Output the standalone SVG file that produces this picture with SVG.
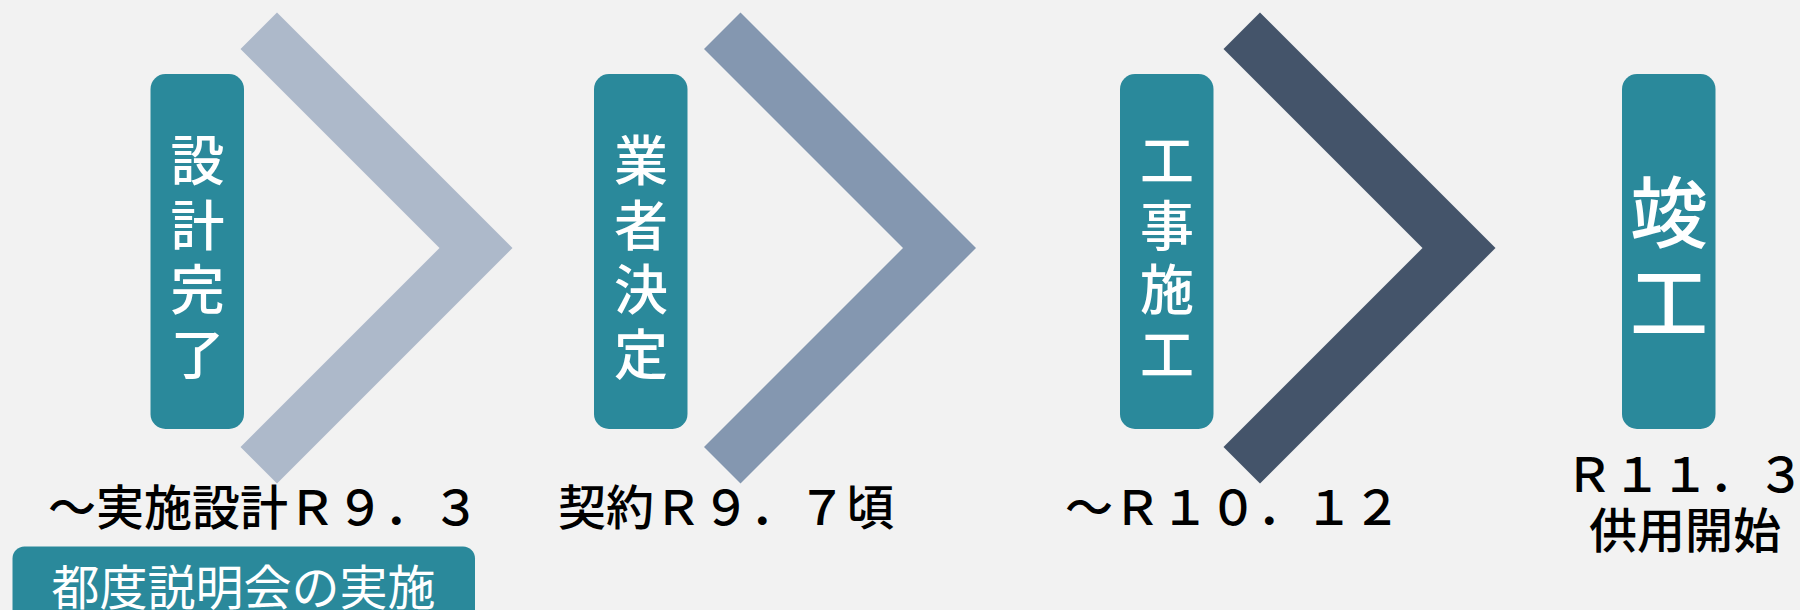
<svg xmlns="http://www.w3.org/2000/svg" width="1800" height="610" viewBox="0 0 1800 610">
<style>
.box{fill:#2A899B}
.bt{fill:#FFFFFF;font-family:"Noto Sans CJK JP","Noto Sans CJK SC",sans-serif;font-size:54px;font-weight:500;text-anchor:middle}
.bt2{fill:#FFFFFF;font-family:"Noto Sans CJK JP","Noto Sans CJK SC",sans-serif;font-size:78px;font-weight:500;text-anchor:middle}
.lbl{fill:#000000;font-family:"Noto Sans CJK JP","Noto Sans CJK SC",sans-serif;font-size:48px;font-weight:500}
.note{fill:#FFFFFF;font-family:"Noto Sans CJK JP","Noto Sans CJK SC",sans-serif;font-size:48px;font-weight:400;text-anchor:middle}
</style>
<rect x="0" y="0" width="1800" height="610" fill="#F2F2F2"/>
<g id="connectors">
<polygon id="chev1" fill="#ADB9CA" points="277,12.5 512.5,248 277,483.5 240.5,447 439.5,248 240.5,49"/>
<polygon id="chev2" fill="#8497B0" points="740.5,12.5 976,248 740.5,483.5 704,447 903,248 704,49"/>
<polygon id="chev3" fill="#44546A" points="1260,12.5 1495.5,248 1260,483.5 1223.5,447 1422.5,248 1223.5,49"/>
</g>
<g id="node1">
<rect class="box" x="150.5" y="74" width="93.5" height="355" rx="15"/>
<text class="bt"><tspan x="197.5" y="181">設</tspan><tspan x="197.5" y="245.5">計</tspan><tspan x="197.5" y="310">完</tspan><tspan x="197.5" y="374.5">了</tspan></text>
</g>
<g id="node2">
<rect class="box" x="594" y="74" width="93.5" height="355" rx="15"/>
<text class="bt"><tspan x="641" y="181">業</tspan><tspan x="641" y="245.5">者</tspan><tspan x="641" y="310">決</tspan><tspan x="641" y="374.5">定</tspan></text>
</g>
<g id="node3">
<rect class="box" x="1120" y="74" width="93.5" height="355" rx="15"/>
<text class="bt"><tspan x="1167" y="181">工</tspan><tspan x="1167" y="245.5">事</tspan><tspan x="1167" y="310">施</tspan><tspan x="1167" y="374.5">工</tspan></text>
</g>
<g id="node4">
<rect class="box" x="1622" y="74" width="93.5" height="355" rx="15"/>
<text class="bt2"><tspan x="1669" y="242">竣</tspan><tspan x="1669" y="332">工</tspan></text>
</g>
<g id="labels">
<text class="lbl" x="48" y="525">～実施設計Ｒ９．３</text>
<text class="lbl" x="558" y="525">契約Ｒ９．７頃</text>
<text class="lbl" x="1065" y="525" font-weight="400">〜Ｒ１０．１２</text>
<text class="lbl" x="1685" y="491.5" font-weight="400" text-anchor="middle">Ｒ１１．３</text>
<text class="lbl" x="1685" y="548" text-anchor="middle">供用開始</text>
</g>
<g id="node5">
<rect class="box" x="12.5" y="546.5" width="462.5" height="90" rx="12"/>
<text class="note" x="243.5" y="605">都度説明会の実施</text>
</g>
</svg>
